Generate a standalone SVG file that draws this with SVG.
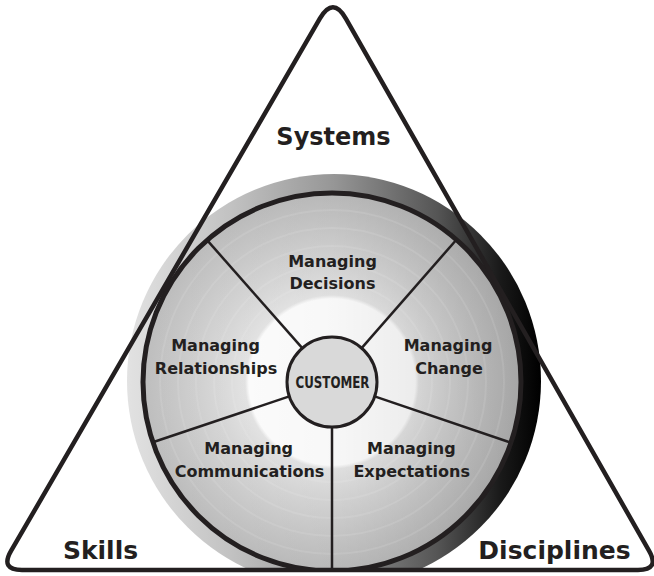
<svg xmlns="http://www.w3.org/2000/svg" width="654" height="576" viewBox="0 0 654 576">
  <style>
    .lbl { font-family: "DejaVu Sans", "Open Sans", sans-serif; font-weight: bold; fill: #231f20; text-anchor: middle; }
    .big { font-size: 25px; }
    .sec { font-size: 16px; }
    .cust { font-family: "DejaVu Sans Condensed", "DejaVu Sans", sans-serif; font-weight: bold; font-size: 15px; fill: #231f20; text-anchor: middle; }
    .spoke { stroke: #231f20; stroke-width: 2.5; fill: none; }
    .ringline { fill: none; stroke: #ffffff; stroke-opacity: 0.1; stroke-width: 2; }
  </style>
  <defs>
    <linearGradient id="outerGrad" gradientUnits="userSpaceOnUse" x1="127" y1="0" x2="541" y2="0">
      <stop offset="0" stop-color="#e2e2e2"/>
      <stop offset="0.25" stop-color="#c2c2c2"/>
      <stop offset="0.5" stop-color="#969696"/>
      <stop offset="0.75" stop-color="#555555"/>
      <stop offset="0.9" stop-color="#1a1a1a"/>
      <stop offset="1" stop-color="#000000"/>
    </linearGradient>
    <radialGradient id="innerGrad" gradientUnits="userSpaceOnUse" cx="332" cy="382" r="189">
      <stop offset="0" stop-color="#ffffff"/>
      <stop offset="0.44" stop-color="#ffffff"/>
      <stop offset="0.46" stop-color="#e6e6e6"/>
      <stop offset="0.6" stop-color="#dadada"/>
      <stop offset="0.8" stop-color="#cbcbcb"/>
      <stop offset="1" stop-color="#bdbdbd"/>
    </radialGradient>
    <linearGradient id="shade" gradientUnits="userSpaceOnUse" x1="143" y1="0" x2="521" y2="0">
      <stop offset="0" stop-color="#000" stop-opacity="0"/>
      <stop offset="0.5" stop-color="#000" stop-opacity="0.03"/>
      <stop offset="1" stop-color="#000" stop-opacity="0.13"/>
    </linearGradient>
    <clipPath id="aboveBase">
      <rect x="0" y="0" width="654" height="571"/>
    </clipPath>
  </defs>

  <g id="wheel" clip-path="url(#aboveBase)">
    <circle cx="334" cy="381" r="207" fill="url(#outerGrad)"/>
    <circle cx="332" cy="382" r="189" fill="url(#innerGrad)"/>
    <circle cx="332" cy="382" r="189" fill="url(#shade)"/>
    <circle class="ringline" cx="332" cy="382" r="100"/>
    <circle class="ringline" cx="332" cy="382" r="118"/>
    <circle class="ringline" cx="332" cy="382" r="136"/>
    <circle class="ringline" cx="332" cy="382" r="154"/>
    <circle class="ringline" cx="332" cy="382" r="172"/>
    <circle cx="332" cy="382" r="189" fill="none" stroke="#231f20" stroke-width="5"/>
  </g>

  <g id="connectors">
    <line class="spoke" x1="302.3" y1="348.2" x2="207.1" y2="240.1"/>
    <line class="spoke" x1="361.6" y1="348.1" x2="456.4" y2="239.7"/>
    <line class="spoke" x1="289.3" y1="396.4" x2="152.8" y2="442.3"/>
    <line class="spoke" x1="374.6" y1="396.4" x2="511" y2="442.7"/>
    <line class="spoke" x1="332" y1="427" x2="332" y2="570"/>
  </g>

  <g id="customer">
    <circle cx="332" cy="382" r="45" fill="#d9d9d9" stroke="#231f20" stroke-width="3"/>
    <text class="cust" x="332.5" y="388" textLength="74" lengthAdjust="spacingAndGlyphs">CUSTOMER</text>
  </g>

  <g id="managing-decisions">
    <text class="lbl sec" x="332.5" y="267">Managing</text>
    <text class="lbl sec" x="332.5" y="289">Decisions</text>
  </g>
  <g id="managing-relationships">
    <text class="lbl sec" x="215.5" y="350.5">Managing</text>
    <text class="lbl sec" x="216" y="373.5">Relationships</text>
  </g>
  <g id="managing-change">
    <text class="lbl sec" x="448" y="350.5">Managing</text>
    <text class="lbl sec" x="449" y="373.5">Change</text>
  </g>
  <g id="managing-communications">
    <text class="lbl sec" x="248.7" y="454">Managing</text>
    <text class="lbl sec" x="249.5" y="476.5">Communications</text>
  </g>
  <g id="managing-expectations">
    <text class="lbl sec" x="411.3" y="454">Managing</text>
    <text class="lbl sec" x="411.7" y="476.5">Expectations</text>
  </g>

  <g id="triangle">
    <path d="M 319.95,18.49 Q 333,-4 345.87,18.59 L 649.11,550.88 Q 660,570 638,570 L 22,570 Q 0,570 11.04,550.97 Z" fill="none" stroke="#231f20" stroke-width="4.5" stroke-linejoin="round"/>
  </g>

  <g id="systems">
    <text class="lbl big" x="333.5" y="145" style="font-size:24px">Systems</text>
  </g>
  <g id="skills">
    <text class="lbl big" x="100.5" y="559">Skills</text>
  </g>
  <g id="disciplines">
    <text class="lbl big" x="554.5" y="559">Disciplines</text>
  </g>
</svg>
